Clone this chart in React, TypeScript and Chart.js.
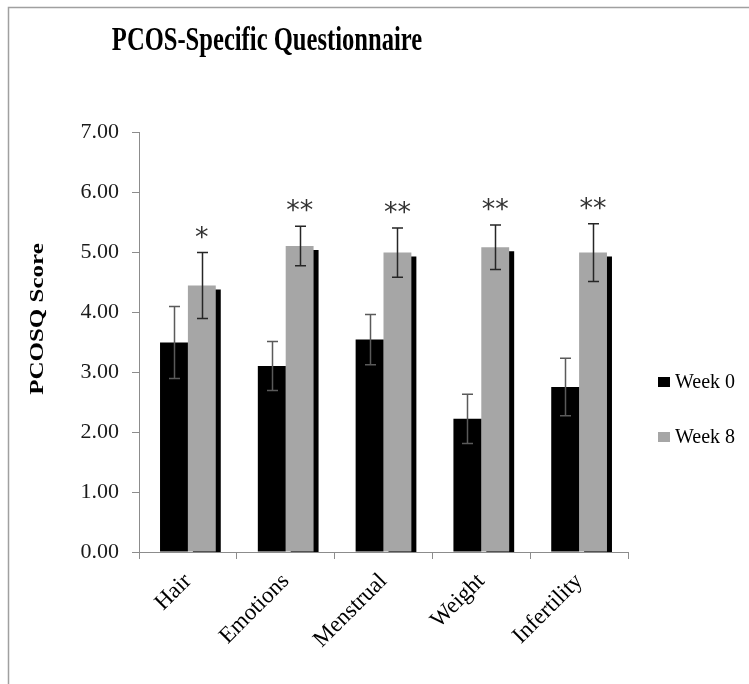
import React, { useEffect, useRef } from "react";
import { Chart, registerables } from "chart.js";

Chart.register(...registerables);

const chartTitle = "PCOS-Specific Questionnaire";
const yAxisTitle = "PCOSQ Score";
const categories = ["Hair", "Emotions", "Menstrual", "Weight", "Infertility"];
const seriesNames = ["Week 0", "Week 8"];
const week0 = [3.49, 3.1, 3.54, 2.22, 2.75];
const week0Err = [0.6, 0.41, 0.42, 0.41, 0.48];
const week8 = [4.44, 5.1, 4.99, 5.08, 4.99];
const week8Err = [0.55, 0.33, 0.41, 0.37, 0.48];
const significance = ["*", "**", "**", "**", "**"];
const yMin = 0;
const yMax = 7;
const yStep = 1;

const SERIF = '"Liberation Serif", "Times New Roman", serif';
const COLORS = ["#000000", "#a6a6a6"];
const ERR_COLORS = ["#5a5a5a", "#262626"];

const decorPlugin = {
  id: "decor",
  beforeDraw(chart: any) {
    const ctx = chart.ctx;
    ctx.save();
    ctx.fillStyle = "#ffffff";
    ctx.fillRect(0, 0, chart.width, chart.height);
    // outer frame
    ctx.strokeStyle = "#a0a0a0";
    ctx.lineWidth = 1.5;
    ctx.beginPath();
    ctx.moveTo(8.5, chart.height);
    ctx.lineTo(8.5, 7.5);
    ctx.lineTo(chart.width, 7.5);
    ctx.stroke();
    // title
    ctx.fillStyle = "#000";
    ctx.font = "bold 33px " + SERIF;
    ctx.textAlign = "center";
    ctx.textBaseline = "alphabetic";
    ctx.translate(267, 50);
    ctx.scale(0.745, 1);
    ctx.fillText(chartTitle, 0, 0);
    ctx.restore();
    // y title
    ctx.save();
    ctx.fillStyle = "#000";
    ctx.font = "bold 25px " + SERIF;
    ctx.textAlign = "center";
    ctx.textBaseline = "alphabetic";
    ctx.translate(42.5, 319);
    ctx.rotate(-Math.PI / 2);
    ctx.scale(1, 0.77);
    ctx.fillText(yAxisTitle, 0, 0);
    ctx.restore();
  },
  beforeDatasetDraw(chart: any, args: any) {
    if (args.index === 1) {
      const ctx = chart.ctx;
      ctx.save();
      ctx.shadowColor = "#000000";
      ctx.shadowOffsetX = 5;
      ctx.shadowOffsetY = 4;
      ctx.shadowBlur = 0;
    }
  },
  afterDatasetDraw(chart: any, args: any) {
    if (args.index === 1) {
      chart.ctx.restore();
    }
  },
  afterDatasetsDraw(chart: any) {
    const ctx = chart.ctx;
    const ys = chart.scales.y;
    const errs = [week0Err, week8Err];
    const vals = [week0, week8];
    ctx.save();
    for (let d = 0; d < 2; d++) {
      const meta = chart.getDatasetMeta(d);
      meta.data.forEach((bar: any, i: number) => {
        const v = vals[d][i];
        const e = errs[d][i];
        const x = Math.round(bar.x) + 0.5;
        const yt = ys.getPixelForValue(v + e);
        const yb = ys.getPixelForValue(v - e);
        ctx.strokeStyle = ERR_COLORS[d];
        ctx.lineWidth = 1.5;
        ctx.beginPath();
        ctx.moveTo(x, yt);
        ctx.lineTo(x, yb);
        ctx.moveTo(x - 5.5, yt);
        ctx.lineTo(x + 5.5, yt);
        ctx.moveTo(x - 5.5, yb);
        ctx.lineTo(x + 5.5, yb);
        ctx.stroke();
      });
    }
    // significance marks
    const meta8 = chart.getDatasetMeta(1);
    ctx.fillStyle = "#333333";
    ctx.font = '27px "DejaVu Sans", sans-serif';
    ctx.textAlign = "center";
    ctx.textBaseline = "alphabetic";
    meta8.data.forEach((bar: any, i: number) => {
      const yt = ys.getPixelForValue(week8[i] + week8Err[i]);
      ctx.fillText(significance[i], bar.x, yt - 21 + 14);
    });
    // legend
    ctx.font = "20px " + SERIF;
    ctx.textAlign = "left";
    ctx.textBaseline = "middle";
    const legendY = [382, 437];
    seriesNames.forEach((name, i) => {
      ctx.fillStyle = COLORS[i];
      ctx.fillRect(658, legendY[i] - 5, 12, 10);
      ctx.fillStyle = "#000";
      ctx.fillText(name, 675, legendY[i] + 1);
    });
    ctx.restore();
  },
};

export default function App() {
  const ref = useRef<HTMLCanvasElement | null>(null);
  useEffect(() => {
    if (!ref.current) return;
    const chart = new Chart(ref.current, {
      type: "bar",
      data: {
        labels: categories,
        datasets: [
          {
            label: seriesNames[0],
            data: week0,
            backgroundColor: COLORS[0],
            categoryPercentage: 0.57,
            barPercentage: 1,
          },
          {
            label: seriesNames[1],
            data: week8,
            backgroundColor: COLORS[1],
            categoryPercentage: 0.57,
            barPercentage: 1,
          },
        ],
      },
      options: {
        responsive: false,
        animation: false,
        devicePixelRatio: 1,
        layout: { padding: { left: 0, top: 132, right: 121, bottom: 0 } },
        plugins: {
          legend: { display: false },
          title: { display: false },
          tooltip: { enabled: false },
        },
        scales: {
          x: {
            grid: {
              display: true,
              drawOnChartArea: false,
              drawTicks: true,
              tickLength: 7,
              color: "#8c8c8c",
              offset: true,
            },
            border: { display: true, color: "#8c8c8c", width: 1 },
            ticks: {
              minRotation: 45,
              maxRotation: 45,
              color: "#000",
              padding: 9,
              font: { family: SERIF, size: 23 },
            },
            afterFit(scale: any) {
              scale.height = 132;
            },
          },
          y: {
            min: yMin,
            max: yMax,
            grid: {
              display: true,
              drawOnChartArea: false,
              drawTicks: true,
              tickLength: 7,
              color: "#8c8c8c",
            },
            border: { display: true, color: "#8c8c8c", width: 1 },
            ticks: {
              stepSize: yStep,
              color: "#1a1a1a",
              padding: 13,
              font: { family: SERIF, size: 22 },
              callback: (v: any) => Number(v).toFixed(2),
            },
            afterFit(scale: any) {
              scale.width = 139;
            },
          },
        },
      },
      plugins: [decorPlugin],
    });
    return () => chart.destroy();
  }, []);
  return (
    <div style={{ position: "fixed", left: 0, top: 0, width: 749, height: 684 }}>
      <canvas ref={ref} width={749} height={684} style={{ display: "block" }} />
    </div>
  );
}
